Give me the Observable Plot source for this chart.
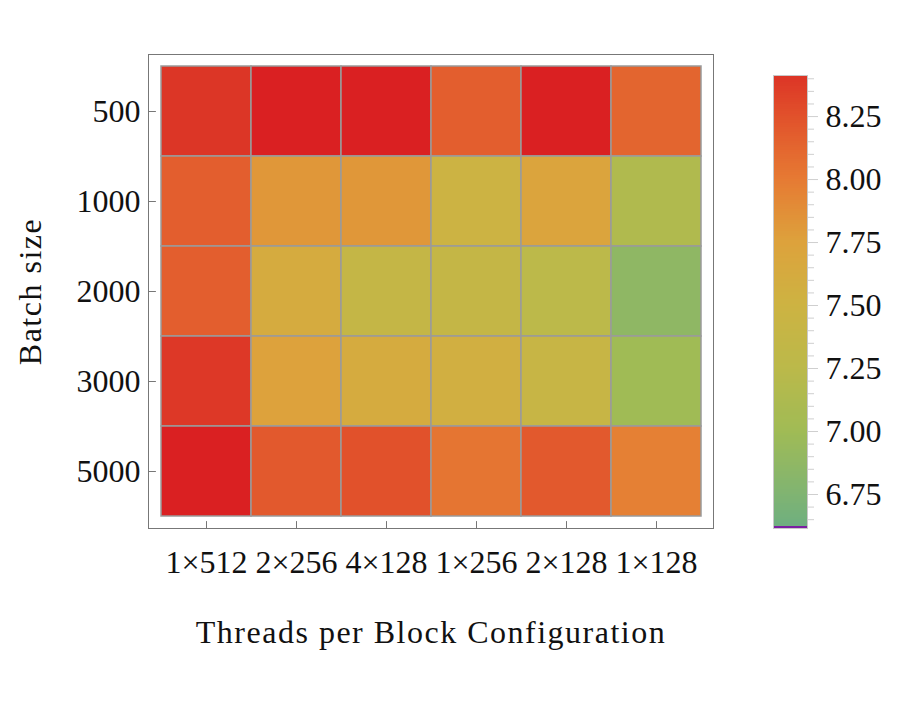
<!DOCTYPE html>
<html>
<head>
<meta charset="utf-8">
<script src="https://cdn.jsdelivr.net/npm/d3@7"></script>
<script src="https://cdn.jsdelivr.net/npm/@observablehq/plot@0.6"></script>
<style>
  html, body { margin: 0; padding: 0; background: #fff; }
  #wrap { position: relative; width: 897px; height: 715px; }
  #wrap > div, #wrap > svg { position: absolute; top: 0; }
  svg { font-family: "Liberation Serif", "DejaVu Serif", serif; }
  g[aria-label="x-axis label"] text, g[aria-label="y-axis label"] text { letter-spacing: 1.5px; }
</style>
</head>
<body>
<div id="wrap"></div>
<script>
// ---- data ----
const configs = ["1×512", "2×256", "4×128", "1×256", "2×128", "1×128"];
const batchSizes = ["500", "1000", "2000", "3000", "5000"];
const v500  = [8.40, 8.50, 8.50, 8.17, 8.50, 8.13];
const v1000 = [8.17, 7.82, 7.82, 7.48, 7.72, 7.15];
const v2000 = [8.17, 7.62, 7.37, 7.37, 7.26, 6.87];
const v3000 = [8.39, 7.75, 7.62, 7.56, 7.42, 7.00];
const v5000 = [8.50, 8.20, 8.25, 8.03, 8.20, 7.96];
const rowsValues = [v500, v1000, v2000, v3000, v5000];

const colorStops = [6.615, 6.75, 7.0, 7.25, 7.5, 7.75, 8.0, 8.25, 8.413, 8.5];
const colorList  = ["#6daf80", "#80b472", "#a0bb55", "#bbb94a", "#cdb342", "#dda23c", "#e67a33", "#e1512b", "#dc3426", "#da2022"];
const barMin = 6.615, barMax = 8.413;
const majorTicks = [6.75, 7.0, 7.25, 7.5, 7.75, 8.0, 8.25];
const minorTicks = [6.65, 6.7, 6.8, 6.85, 6.9, 6.95, 7.05, 7.1, 7.15, 7.2, 7.3, 7.35, 7.4, 7.45,
                    7.55, 7.6, 7.65, 7.7, 7.8, 7.85, 7.9, 7.95, 8.05, 8.1, 8.15, 8.2, 8.3, 8.35, 8.4];

const table = [];
batchSizes.forEach((b, i) => configs.forEach((c, j) => table.push({batch: b, config: c, value: rowsValues[i][j]})));

const colorScale = {type: "linear", domain: colorStops, range: colorList, interpolate: "rgb", clamp: true};
const FS = 32;

const main = Plot.plot({
  width: 760, height: 715,
  marginLeft: 148, marginRight: 47, marginTop: 54, marginBottom: 187,
  style: {fontSize: FS + "px", fontFamily: "'Liberation Serif', serif", color: "#111"},
  x: {domain: configs, inset: 11, padding: 0, label: "Threads per Block Configuration"},
  y: {domain: batchSizes, inset: 11, padding: 0, label: "Batch size"},
  color: colorScale,
  marks: [
    Plot.cell(table, {x: "config", y: "batch", fill: "value", stroke: "#9a9a9a", strokeWidth: 1.5, inset: 0}),
    Plot.frame({stroke: "#777", strokeWidth: 1}),
    Plot.vector(configs, {x: d => d, frameAnchor: "bottom", length: 7, rotate: 0, anchor: "start", stroke: "#777", strokeWidth: 1, shape: {draw(ctx, l) { ctx.moveTo(0, 0); ctx.lineTo(0, -l); }}}),
    Plot.vector(batchSizes, {y: d => d, frameAnchor: "left", length: 7, rotate: 90, anchor: "start", stroke: "#777", strokeWidth: 1, shape: {draw(ctx, l) { ctx.moveTo(0, 0); ctx.lineTo(0, -l); }}}),
    Plot.axisX({tickSize: 0, tickPadding: 22, fontSize: FS, label: "Threads per Block Configuration", labelAnchor: "center", labelOffset: 114}),
    Plot.axisY({tickSize: 0, tickPadding: 8, fontSize: FS, label: "Batch size", labelAnchor: "center", labelOffset: 130})
  ]
});
main.style.left = "0px";
document.getElementById("wrap").appendChild(main);

const barSteps = d3.range(0, 200).map(i => [barMin + (barMax - barMin) * i / 200, barMin + (barMax - barMin) * (i + 1) / 200]);

const bar = Plot.plot({
  width: 137, height: 715,
  marginLeft: 13, marginRight: 90, marginTop: 75, marginBottom: 187,
  style: {fontSize: FS + "px", fontFamily: "'Liberation Serif', serif", color: "#111"},
  x: {domain: [0, 1], axis: null},
  y: {domain: [barMin, barMax], label: null},
  color: colorScale,
  marks: [
    Plot.rect(barSteps, {x1: 0, x2: 1, y1: d => d[0], y2: d => d[1], fill: d => (d[0] + d[1]) / 2, shapeRendering: "crispEdges"}),
    Plot.ruleY([barMin], {x1: 0, x2: 1, stroke: "#7b1fa2", strokeWidth: 3, dy: -1}),
    Plot.frame({stroke: "#c8c8c8", strokeWidth: 1}),
    Plot.axisY(minorTicks, {anchor: "right", tickSize: 6, tickFormat: () => "", stroke: "#cfcfcf", label: null}),
    Plot.axisY(majorTicks, {anchor: "right", tickSize: 10, tickPadding: 8, tickFormat: d3.format(".2f"), fontSize: FS, stroke: "#cfcfcf", label: null})
  ]
});
bar.style.left = "760px";
document.getElementById("wrap").appendChild(bar);
</script>
</body>
</html>
